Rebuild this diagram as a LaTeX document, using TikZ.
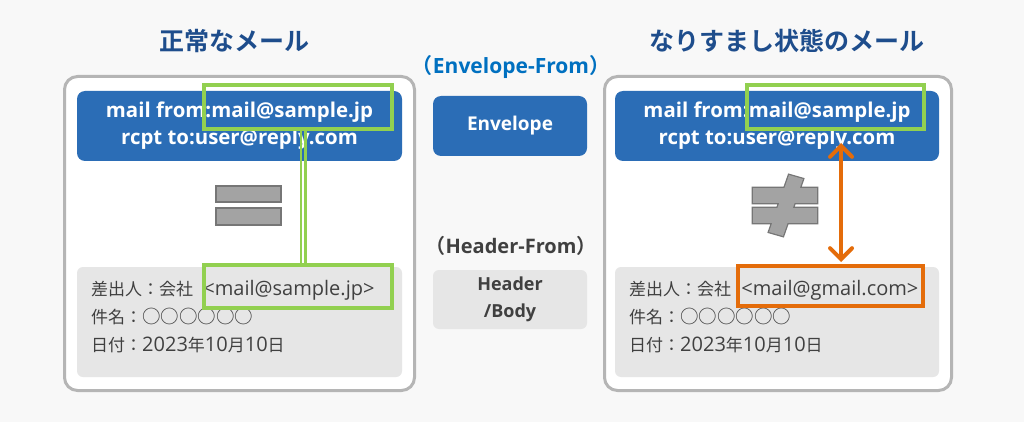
\documentclass[tikz,border=0pt]{standalone}
\usepackage{fontspec}
\setmainfont{Open Sans}
\newfontfamily\jp{Noto Sans CJK JP}[BoldFont={Noto Sans CJK JP Bold}]
\newcommand\jtext[1]{{\jp\fontsize{17}{20}\selectfont #1}}
\newcommand\circtext[1]{{\jp\fontsize{18.5}{20}\selectfont #1}}
\usetikzlibrary{arrows.meta}
\definecolor{bgc}{HTML}{F8F8F8}
\definecolor{framec}{HTML}{B5B5B5}
\definecolor{bluec}{HTML}{2B6DB6}
\definecolor{greenc}{HTML}{92D050}
\definecolor{orangec}{HTML}{E46C0A}
\definecolor{panelc}{HTML}{E6E6E6}
\definecolor{titlec}{HTML}{1E4D8C}
\definecolor{efc}{HTML}{0070C0}
\definecolor{darkc}{HTML}{404040}
\definecolor{eqfill}{HTML}{A3A3A3}
\definecolor{eqline}{HTML}{767676}
\tikzset{
  frame/.style={draw=framec, line width=3pt, rounded corners=13pt, fill=white, inner sep=0pt},
  bluebox/.style={fill=bluec, rounded corners=8pt, inner sep=0pt, text=white, align=center,
    font=\fontsize{20.4}{27}\selectfont\bfseries},
  panel/.style={fill=panelc, rounded corners=6pt, inner sep=0pt},
  gbox/.style={draw=greenc, line width=4pt, inner sep=0pt},
  obox/.style={draw=orangec, line width=4pt, inner sep=0pt},
  ptext/.style={anchor=base west, inner sep=0pt, text=darkc, font=\fontsize{20}{24}\selectfont},
  title/.style={anchor=base, inner sep=0pt, text=titlec, font=\jp\fontsize{25}{28}\selectfont\bfseries},
  gline/.style={draw=greenc, line width=2.5pt},
  oarrow/.style={draw=orangec, line width=4pt, line cap=round,
    {Straight Barb[length=11pt,width=22pt,line cap=round]}-{Straight Barb[length=11pt,width=22pt,line cap=round]}},
}
\begin{document}
\begin{tikzpicture}[x=1pt,y=-1pt]
\fill[bgc] (0,0) rectangle (1024,422);
\useasboundingbox (0,0) rectangle (1024,422);

% titles
\node[title] (t1) at (234,50.5) {正常なメール};
\node[title] (t2) at (787,50.5) {なりすまし状態のメール};

% left mail
\node[frame, minimum width=350pt, minimum height=314pt] (lframe) at (239.5,233.5) {};
\node[bluebox, minimum width=325pt, minimum height=70pt] (lblue) at (239.5,126)
  {mail from:mail@sample.jp\\rcpt to:user@reply.com};
\node[panel, minimum width=325pt, minimum height=110pt] (lpanel) at (239.5,322) {};
\node[ptext] (l1) at (91,295) {\jtext{差出人：会社} \kern5pt<mail@sample.jp>};
\node[ptext] (l2) at (91,323) {\jtext{件名：}\circtext{○○○○○○}};
\node[ptext] (l3) at (91,351) {\jtext{日付：}2023\jtext{年}10\jtext{月}10\jtext{日}};
\node[gbox, minimum width=188pt, minimum height=44pt] (lgt) at (298,107) {};
\node[gbox, minimum width=188pt, minimum height=43pt] (lgb) at (298,286.5) {};
\draw[gline] ([xshift=3pt]lgt.south) -- ([xshift=3pt]lgt.south |- lgb.north);
\draw[gline] ([xshift=7.5pt]lgt.south) -- ([xshift=7.5pt]lgt.south |- lgb.north);
% equal sign
\path[draw=eqline, line width=1.4pt, fill=eqfill] (216,186) rectangle (281,202);
\path[draw=eqline, line width=1.4pt, fill=eqfill] (216,208) rectangle (281,225);

% middle
\node[anchor=base, inner sep=0pt, text=efc, font=\fontsize{21}{24}\selectfont\bfseries] (ef) at (511,74) {{\jp （}Envelope-From{\jp ）}};
\node[bluebox, minimum width=154pt, minimum height=60pt, font=\fontsize{19}{22}\selectfont\bfseries] (env) at (510,126) {Envelope};
\node[anchor=base, inner sep=0pt, text=darkc, font=\fontsize{20}{24}\selectfont\bfseries] (hf) at (511,253) {{\jp （}Header-From{\jp ）}};
\node[panel, minimum width=154pt, minimum height=59pt, align=center, text=darkc,
  font=\fontsize{18}{27}\selectfont\bfseries] (hb) at (510,299.5) {Header\\/Body};

% right mail
\node[frame, minimum width=347pt, minimum height=314pt] (rframe) at (778,233.5) {};
\node[bluebox, minimum width=324pt, minimum height=70pt] (rblue) at (777,126)
  {mail from:mail@sample.jp\\rcpt to:user@reply.com};
\node[panel, minimum width=324pt, minimum height=110pt] (rpanel) at (777,322) {};
\node[ptext] (r1) at (629,295) {\jtext{差出人：会社} \kern5pt<mail@gmail.com>};
\node[ptext] (r2) at (629,323) {\jtext{件名：}\circtext{○○○○○○}};
\node[ptext] (r3) at (629,351) {\jtext{日付：}2023\jtext{年}10\jtext{月}10\jtext{日}};
\node[gbox, minimum width=177pt, minimum height=44pt] (rgt) at (835.5,107) {};
\node[obox, minimum width=185pt, minimum height=40pt] (rob) at (830.5,286) {};
% not-equal sign
\path[draw=eqline, line width=2.6pt]
  (789,175) -- (803,179) -- (783,236) -- (769,232) -- cycle
  (753,188) rectangle (817,203)
  (753,208) rectangle (817,223);
\path[fill=eqfill]
  (789,175) -- (803,179) -- (783,236) -- (769,232) -- cycle;
\path[fill=eqfill] (753,188) rectangle (817,203);
\path[fill=eqfill] (753,208) rectangle (817,223);
% orange arrow
\coordinate (atop) at (841,143);
\coordinate (abot) at (841,262);
\draw[oarrow] (atop) -- (abot);
\end{tikzpicture}
\end{document}
